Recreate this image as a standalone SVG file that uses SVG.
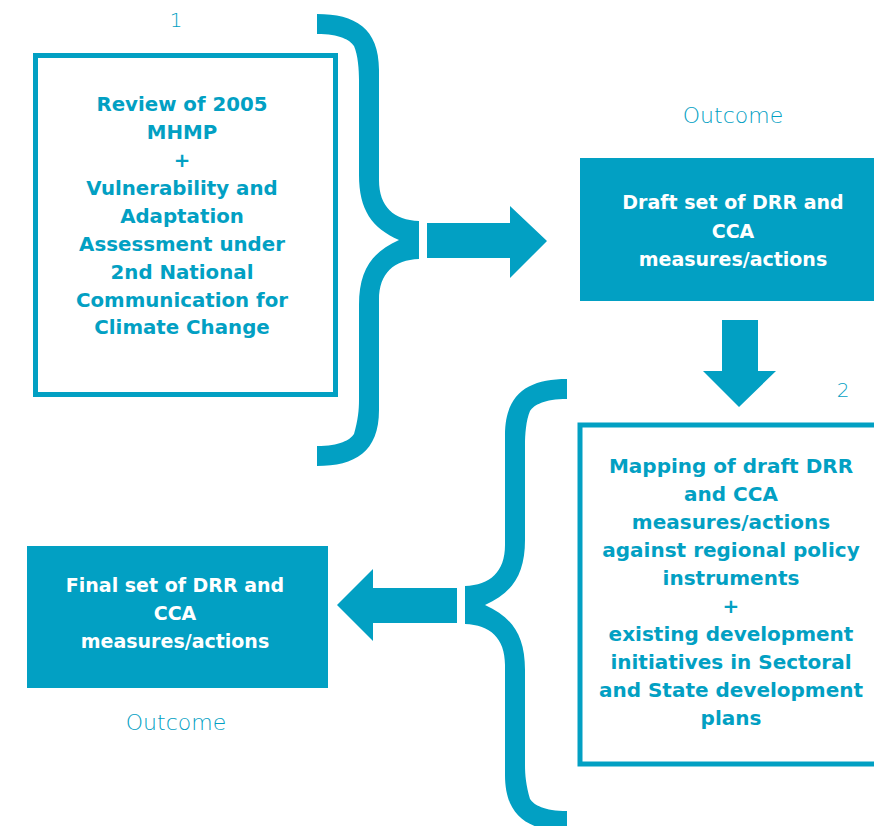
<svg xmlns="http://www.w3.org/2000/svg" xmlns:xlink="http://www.w3.org/1999/xlink" width="874" height="826" viewBox="0 0 874 826">
  <style>
    .ink { fill: #02a0c3; }
    .frame { fill: #ffffff; stroke: #02a0c3; stroke-width: 5; }
    .solid { fill: #02a0c3; }
    .t { font-family: "DejaVu Sans", "Liberation Sans", sans-serif; font-weight: bold; font-size: 19px; text-anchor: middle; }
    .t1 { font-size: 19.8px; }
    .t2 { font-size: 20px; }
    .blue { fill: #02a0c3; }
    .white { fill: #ffffff; }
    .lbl { font-family: "DejaVu Sans", "Liberation Sans", sans-serif; font-weight: 200; font-size: 22px; text-anchor: middle; fill: #02a0c3; }
    .num { font-size: 20px; }
  </style>
  <defs>
    <path id="brace" d="M317,14 C355,14 379,28 379,70 L379,180 C379,207 394,220 419,221 L419,259 C394,260 379,273 379,300 L379,410 C379,452 355,466 317,466 L317,446 C340,446 350,440 354,434 C358,420 359,410 359,400 L359,305 C359,270 372,252 399,240 C372,228 359,210 359,175 L359,80 C359,70 358,55 354,46 C350,40 340,34 317,34 Z"/>
  </defs>
  <rect width="874" height="826" fill="#ffffff"/>

  <g id="connectors">
    <use xlink:href="#brace" class="ink"/>
    <use xlink:href="#brace" class="ink" transform="translate(884,365) scale(-1,1)"/>
    <path class="ink" d="M427,223 L510,223 L510,206 L547,241 L510,278 L510,258 L427,258 Z"/>
    <path class="ink" d="M722,320 L758,320 L758,371 L776,371 L739,407 L703,371 L722,371 Z"/>
    <path class="ink" d="M457,588 L373,588 L373,569 L337,605 L373,641 L373,623 L457,623 Z"/>
  </g>

  <g id="label-1"><text class="lbl num" x="176" y="27">1</text></g>
  <g id="label-2"><text class="lbl num" x="843" y="397">2</text></g>
  <g id="label-outcome-top"><text class="lbl" x="733" y="123">Outcome</text></g>
  <g id="label-outcome-bottom"><text class="lbl" x="176" y="730">Outcome</text></g>

  <g id="node-review">
    <rect class="frame" x="35.5" y="55.5" width="300" height="339"/>
    <text class="t t1 blue" x="182" y="111">Review of 2005</text>
    <text class="t t1 blue" x="182" y="139">MHMP</text>
    <text class="t t1 blue" x="182" y="167">+</text>
    <text class="t t1 blue" x="182" y="195">Vulnerability and</text>
    <text class="t t1 blue" x="182" y="223">Adaptation</text>
    <text class="t t1 blue" x="182" y="251">Assessment under</text>
    <text class="t t1 blue" x="182" y="279">2nd National</text>
    <text class="t t1 blue" x="182" y="307">Communication for</text>
    <text class="t t1 blue" x="182" y="334">Climate Change</text>
  </g>

  <g id="node-draft">
    <rect class="solid" x="580" y="158" width="294" height="143"/>
    <text class="t white" x="733" y="209">Draft set of DRR and</text>
    <text class="t white" x="733" y="238">CCA</text>
    <text class="t white" x="733" y="266">measures/actions</text>
  </g>

  <g id="node-mapping">
    <rect class="frame" x="580" y="425" width="300" height="339"/>
    <text class="t t2 blue" x="731" y="473">Mapping of draft DRR</text>
    <text class="t t2 blue" x="731" y="501">and CCA</text>
    <text class="t t2 blue" x="731" y="529">measures/actions</text>
    <text class="t t2 blue" x="731" y="557">against regional policy</text>
    <text class="t t2 blue" x="731" y="585">instruments</text>
    <text class="t t2 blue" x="731" y="613">+</text>
    <text class="t t2 blue" x="731" y="641">existing development</text>
    <text class="t t2 blue" x="731" y="669">initiatives in Sectoral</text>
    <text class="t t2 blue" x="731" y="697">and State development</text>
    <text class="t t2 blue" x="731" y="725">plans</text>
  </g>

  <g id="node-final">
    <rect class="solid" x="27" y="546" width="301" height="142"/>
    <text class="t white" x="175" y="592">Final set of DRR and</text>
    <text class="t white" x="175" y="620">CCA</text>
    <text class="t white" x="175" y="648">measures/actions</text>
  </g>
</svg>
